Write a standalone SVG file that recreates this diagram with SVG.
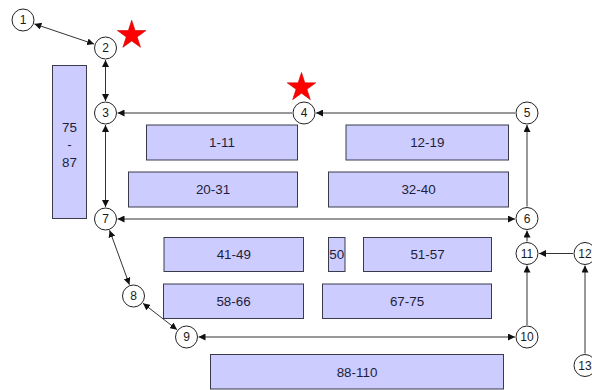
<svg xmlns="http://www.w3.org/2000/svg" width="592" height="390" viewBox="0 0 592 390">
  <style>
    .area rect { fill: #ccccff; stroke: #3a3a4a; stroke-width: 1; }
    .area text { font-family: "Liberation Sans", Arial, sans-serif; font-size: 13.4px; fill: #1e1e3a; text-anchor: middle; }
    .node circle { fill: #ffffff; stroke: #222222; stroke-width: 1; }
    .node text { font-family: "Liberation Sans", Arial, sans-serif; font-size: 12px; fill: #1a1a1a; text-anchor: middle; }
    .links line { stroke: #333333; stroke-width: 1; fill: none; }
    .star { fill: #ff0000; stroke: #cc0000; stroke-width: 0.6; }
  </style>
  <defs>
    <marker id="head" viewBox="0 0 8 8" refX="8" refY="4" markerWidth="7" markerHeight="7" markerUnits="userSpaceOnUse" orient="auto-start-reverse">
      <path d="M0,0 L8,4 L0,8 Z" fill="#111111"/>
    </marker>
    <polygon id="starShape" points="0,-15 3.37,-4.64 14.27,-4.64 5.45,1.77 8.82,12.14 0,5.73 -8.82,12.14 -5.45,1.77 -14.27,-4.64 -3.37,-4.64"/>
  </defs>
  <rect width="592" height="390" fill="#ffffff"/>

  <!-- storage areas -->
  <g id="area-75-87" class="area">
    <rect x="52.5" y="65.5" width="34" height="153"/>
    <text x="69.5" y="131.5">75</text>
    <text x="69.5" y="149">-</text>
    <text x="69.5" y="166.5">87</text>
  </g>
  <g id="area-1-11" class="area">
    <rect x="146.5" y="125" width="151" height="35"/>
    <text x="222" y="147">1-11</text>
  </g>
  <g id="area-12-19" class="area">
    <rect x="346" y="125" width="162.5" height="35"/>
    <text x="427.25" y="147">12-19</text>
  </g>
  <g id="area-20-31" class="area">
    <rect x="128.5" y="172" width="169" height="35"/>
    <text x="213" y="194">20-31</text>
  </g>
  <g id="area-32-40" class="area">
    <rect x="328.5" y="172" width="180" height="35"/>
    <text x="418.5" y="194">32-40</text>
  </g>
  <g id="area-41-49" class="area">
    <rect x="164" y="237.5" width="139.5" height="34"/>
    <text x="233.75" y="259">41-49</text>
  </g>
  <g id="area-50" class="area">
    <rect x="328.5" y="237.5" width="16.5" height="34"/>
    <text x="336.75" y="259">50</text>
  </g>
  <g id="area-51-57" class="area">
    <rect x="363.5" y="237.5" width="128" height="34"/>
    <text x="427.5" y="259">51-57</text>
  </g>
  <g id="area-58-66" class="area">
    <rect x="163.5" y="284" width="140" height="34.5"/>
    <text x="233.5" y="306">58-66</text>
  </g>
  <g id="area-67-75" class="area">
    <rect x="322.5" y="284" width="169" height="34.5"/>
    <text x="407" y="306">67-75</text>
  </g>
  <g id="area-88-110" class="area">
    <rect x="210.5" y="354.5" width="293" height="34.5"/>
    <text x="357" y="376.5">88-110</text>
  </g>

  <!-- aisle connectors -->
  <g id="connectors" class="links">
    <line x1="34.4" y1="23.9" x2="94.1" y2="44.1" marker-start="url(#head)" marker-end="url(#head)"/>
    <line x1="105.5" y1="60" x2="105.5" y2="101" marker-start="url(#head)" marker-end="url(#head)"/>
    <line x1="105.5" y1="125" x2="105.5" y2="207" marker-start="url(#head)" marker-end="url(#head)"/>
    <line x1="515" y1="113" x2="316" y2="113" marker-end="url(#head)"/>
    <line x1="292" y1="113" x2="117.5" y2="113" marker-end="url(#head)"/>
    <line x1="117.5" y1="219" x2="515" y2="219" marker-start="url(#head)" marker-end="url(#head)"/>
    <line x1="527" y1="206.5" x2="527" y2="125" marker-end="url(#head)"/>
    <line x1="527" y1="241.5" x2="527" y2="230.5" marker-end="url(#head)"/>
    <line x1="573" y1="253.5" x2="539" y2="253.5" marker-end="url(#head)"/>
    <line x1="585" y1="353.5" x2="585" y2="265.5" marker-end="url(#head)"/>
    <line x1="527" y1="325" x2="527" y2="265.5" marker-end="url(#head)"/>
    <line x1="198.5" y1="337" x2="515" y2="337" marker-start="url(#head)" marker-end="url(#head)"/>
    <line x1="109.6" y1="230.3" x2="129.4" y2="284.7" marker-start="url(#head)" marker-end="url(#head)"/>
    <line x1="143" y1="303.3" x2="177" y2="329.7" marker-start="url(#head)" marker-end="url(#head)"/>
  </g>

  <!-- aisle nodes -->
  <g id="node-1" class="node"><circle cx="23" cy="20" r="11"/><text x="23" y="24.3">1</text></g>
  <g id="node-2" class="node"><circle cx="105.5" cy="48" r="11"/><text x="105.5" y="52.3">2</text></g>
  <g id="node-3" class="node"><circle cx="105.5" cy="113" r="11"/><text x="105.5" y="117.3">3</text></g>
  <g id="node-4" class="node"><circle cx="304" cy="113" r="11"/><text x="304" y="117.3">4</text></g>
  <g id="node-5" class="node"><circle cx="527" cy="113" r="11"/><text x="527" y="117.3">5</text></g>
  <g id="node-6" class="node"><circle cx="527" cy="218.5" r="11"/><text x="527" y="222.8">6</text></g>
  <g id="node-7" class="node"><circle cx="105.5" cy="219" r="11"/><text x="105.5" y="223.3">7</text></g>
  <g id="node-8" class="node"><circle cx="133.5" cy="296" r="11"/><text x="133.5" y="300.3">8</text></g>
  <g id="node-9" class="node"><circle cx="186.5" cy="337" r="11"/><text x="186.5" y="341.3">9</text></g>
  <g id="node-10" class="node"><circle cx="527" cy="337" r="11"/><text x="527" y="341.3">10</text></g>
  <g id="node-11" class="node"><circle cx="527" cy="253.5" r="11"/><text x="527" y="257.8">11</text></g>
  <g id="node-12" class="node"><circle cx="585" cy="253.5" r="11"/><text x="585" y="257.8">12</text></g>
  <g id="node-13" class="node"><circle cx="585" cy="365.5" r="11"/><text x="585" y="369.8">13</text></g>

  <!-- highlight stars -->
  <use href="#starShape" class="star" transform="translate(131.7 35.2)"/>
  <use href="#starShape" class="star" transform="translate(301.5 87.5)"/>
</svg>
